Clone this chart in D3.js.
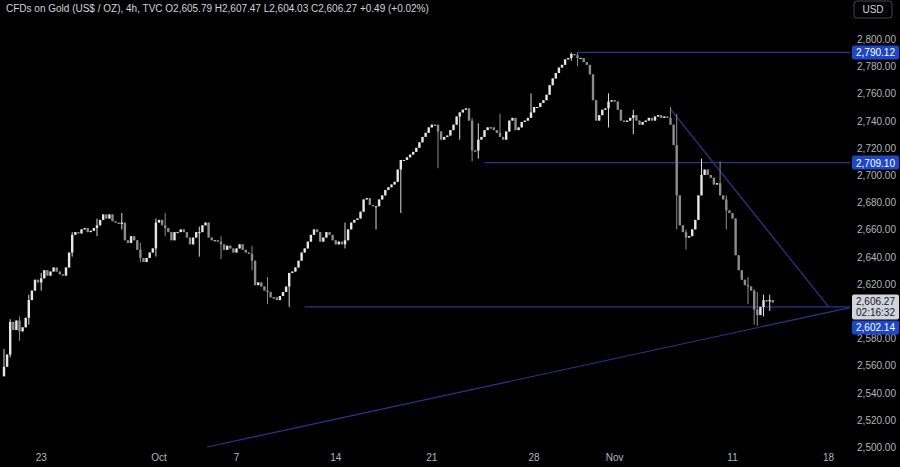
<!DOCTYPE html>
<html>
<head>
<meta charset="utf-8">
<script src="https://cdn.jsdelivr.net/npm/d3@7"></script>
<style>
  body { margin:0; background:#000; }
  text { font-family: "Liberation Sans", Arial, sans-serif; }
</style>
</head>
<body>
<svg id="chart" width="900" height="467"></svg>
<script>
// 4h closes
var closes = [
 2559,2568,2592,2586,2593,2585,2588,2595,2608,2615,2623,2621,2624,2630,2626,2629,2632,2629,2627,2626,
 2632,2643,2656,2658,2657,2660,2661,2658,2659,2661,2663,2667,2671,2668,2671,2666,2665,2664,2665,2652,
 2650,2655,2652,2645,2639,2636,2639,
 2643,2646,2665,2667,2663,2661,2658,2652,2658,2658,2660,2658,2654,2649,2654,2658,2658,2663,2665,2654,
 2652,2652,2651,2649,2645,2648,2646,2643,2646,2649,2645,2643,2642,2637,2619,2621,2618,2615,2614,2610,
 2610,2608,2611,2614,2618,
 2628,2629,2632,2637,2643,2646,2651,2656,2660,2658,2651,2654,2658,2656,2652,2649,2651,2649,2652,2660,
 2665,2667,2668,2673,2682,2683,2678,2677,2677,2682,2685,2689,2691,2693,2695,2704,2711,2711,2713,2715,
 2717,2720,2724,2728,2731,2735,2737,2737,2732,2726,2728,2729,2733,2737,2743,2746,2748,
 2749,2740,2718,2718,2726,2728,2733,2735,2735,2733,2731,2728,2726,2732,2740,2742,2733,2735,2739,2740,
 2742,2746,2750,2750,2753,2755,2759,2766,2771,2775,2779,2781,2785,2786,2789,2788,2786,2786,2783,2781,2774,
 2755,2740,2744,2748,2749,2754,2755,2754,2748,2740,2739,2740,2742,2744,2740,2737,2739,2740,2742,2740,
 2743,2744,2742,2743,2742,2737,2722,2685,2663,2658,2654,2655,2660,2667,2685,2700,2704,2700,2698,2693,
 2694,2685,2682,2674,2672,2668,2641,2630,2623,2619,2618,2615,2601,2597,2603,2608,2607,2608,2606.27
];
// notable wicks: [candle index, high, low]
var wicks = [[0,2572,2552],[2,2594,2566],[5,2596,2578],[8,2612,2590],[12,2628,2615],[22,2658,2640],
 [30,2668,2655],[38,2672,2660],[44,2650,2636],[49,2668,2640],[52,2672,2655],[63,2662,2640],[70,2655,2638],
 [80,2648,2630],[85,2625,2605],[92,2612,2603],[110,2665,2646],[120,2676,2660],[128,2688,2672],
 [140,2722,2705],[147,2742,2726],[151,2742,2710],[153,2738,2712],[160,2745,2730],[170,2760,2745],
 [183,2790.12,2784],[185,2790,2780],[195,2760,2735],[203,2748,2730],[215,2750,2738],[217,2745,2660],
 [220,2660,2645],[225,2712,2690],[231,2710,2698],[233,2685,2660],[240,2625,2605],[242,2616,2590],
 [243,2614,2589],[245,2612,2596],[247,2612,2600]];
var tickIdx = [12,50,75,107,138,171,197,235,266];
var tickLabels = ["23","Oct","7","14","21","28","Nov","11","18"];
var priceTicks = [2500,2520,2540,2560,2580,2600,2620,2640,2660,2680,2700,2720,2740,2760,2780,2800];

var svg = d3.select("#chart");
var W = 850;
var x = d3.scaleLinear().domain([-1.29, 272.9]).range([0, W]);
var y = d3.scaleLinear().domain([2500, 2800]).range([447, 39]);

var candles = closes.map(function(c, i) {
    var o = i == 0 ? 2552 : closes[i-1];
    return {i:i, o:o, c:c, h:Math.max(o,c), l:Math.min(o,c)};
});
wicks.forEach(function(w) {
    var d = candles[w[0]];
    d.h = Math.max(d.h, w[1]); d.l = Math.min(d.l, w[2]);
});

// price axis labels
var axisG = svg.append("g");
axisG.selectAll("text").data(priceTicks).enter().append("text")
    .attr("x", 896).attr("y", function(d){ return y(d) + 4; })
    .attr("text-anchor","end").attr("fill","#b2b5be").attr("font-size", 10)
    .text(function(d){ return d3.format(",.2f")(d); });

// time axis labels
svg.append("g").selectAll("text").data(tickIdx).enter().append("text")
    .attr("x", function(d){ return x(d); }).attr("y", 461)
    .attr("text-anchor","middle").attr("fill","#b2b5be").attr("font-size", 10)
    .text(function(d,i){ return tickLabels[i]; });

// drawn lines
var lineColor = "#2b3590";
var lines = [
    [185, 2790.12, 272.9, 2790.12],
    [155, 2709.1, 272.9, 2709.1],
    [97, 2603, 272.9, 2603],
    [215, 2748.5, 266, 2603],
    [65.5, 2500, 272.9, 2602.5]
];
svg.append("g").selectAll("line").data(lines).enter().append("line")
    .attr("x1", function(d){ return x(d[0]); }).attr("y1", function(d){ return y(d[1]); })
    .attr("x2", function(d){ return x(d[2]); }).attr("y2", function(d){ return y(d[3]); })
    .attr("stroke", lineColor).attr("stroke-width", 1.2);

// candles
var cg = svg.append("g");
var bw = 2.4;
cg.selectAll("line").data(candles).enter().append("line")
    .attr("x1", function(d){ return x(d.i); }).attr("x2", function(d){ return x(d.i); })
    .attr("y1", function(d){ return y(d.h); }).attr("y2", function(d){ return y(d.l); })
    .attr("stroke", function(d){ return d.c >= d.o ? "#d9d9d9" : "#8c8c8c"; }).attr("stroke-width", 1);
cg.selectAll("rect").data(candles).enter().append("rect")
    .attr("x", function(d){ return x(d.i) - bw/2; }).attr("width", bw)
    .attr("y", function(d){ return y(Math.max(d.o,d.c)); })
    .attr("height", function(d){ return Math.max(1, Math.abs(y(d.o) - y(d.c))); })
    .attr("fill", function(d){ return d.c >= d.o ? "#e6e6e6" : "#8c8c8c"; });

// price labels on the axis
function tag(top, txt, bg, fg, h) {
    var g = svg.append("g");
    g.append("rect").attr("x", W + 2).attr("y", top).attr("width", 47).attr("height", h)
        .attr("rx", 2).attr("fill", bg);
    g.append("text").attr("x", W + 25.5).attr("y", top + 11).attr("text-anchor","middle")
        .attr("fill", fg).attr("font-size", 10).text(txt);
    return g;
}
tag(y(2790.12) - 7, "2,790.12", "#1e47c8", "#fff", 14);
tag(y(2709.1) - 7, "2,709.10", "#1e47c8", "#fff", 14);
var cur = tag(y(2606.27) - 8, "2,606.27", "#d1d4dc", "#131722", 25);
cur.append("text").attr("x", W + 25.5).attr("y", y(2606.27) + 14).attr("text-anchor","middle")
    .attr("fill", "#131722").attr("font-size", 10).text("02:16:32");
tag(y(2606.27) + 18, "2,602.14", "#1e47c8", "#fff", 14);

// header and currency box
svg.append("text").attr("x", 6).attr("y", 12).attr("fill","#d1d4dc").attr("font-size", 10)
    .text("CFDs on Gold (US$ / OZ), 4h, TVC  O2,605.79  H2,607.47  L2,604.03  C2,606.27  +0.49 (+0.02%)");
svg.append("rect").attr("x", 854).attr("y", 1).attr("width", 38).attr("height", 17).attr("rx", 3)
    .attr("fill","none").attr("stroke","#434651");
svg.append("text").attr("x", 873).attr("y", 13).attr("text-anchor","middle").attr("fill","#d1d4dc")
    .attr("font-size", 10).text("USD");
</script>
</body>
</html>
